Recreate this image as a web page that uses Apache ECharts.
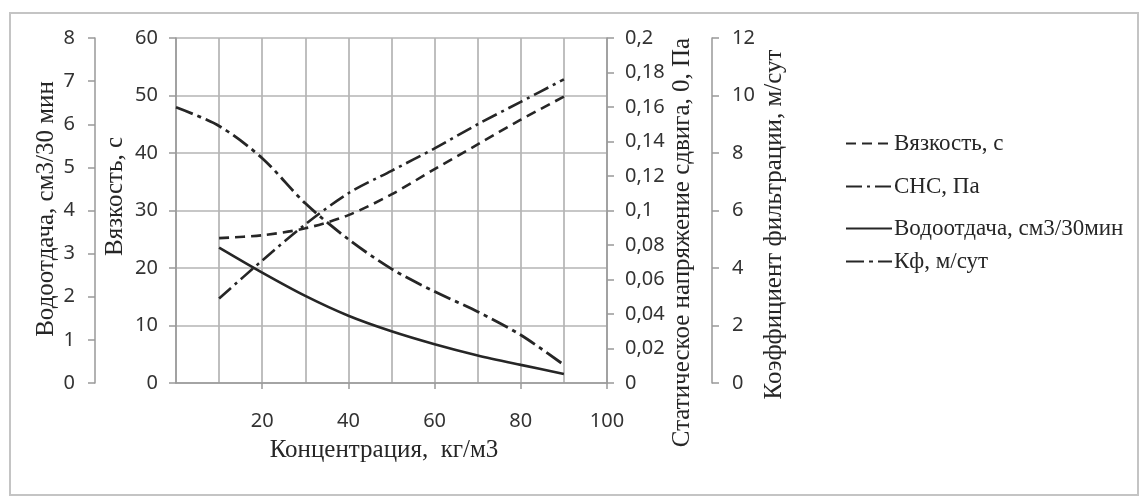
<!DOCTYPE html>
<html>
<head>
<meta charset="utf-8">
<script src="https://cdn.jsdelivr.net/npm/echarts@6/dist/echarts.min.js"></script>
<style>
  html, body { margin: 0; padding: 0; background: #fff; }
  #chart { width: 1141px; height: 497px; }
</style>
</head>
<body>
<div id="chart"></div>
<script>
// Concentration, kg/m3
const concentration = [10, 20, 30, 40, 50, 60, 70, 80, 90];
const kfConcentration = [0, 10, 20, 30, 40, 50, 60, 70, 80, 90];

// Measured properties
const viscosity = [25.2, 25.7, 26.9, 29.2, 32.8, 37.2, 41.5, 45.8, 49.8];
const sns = [0.049, 0.071, 0.092, 0.110, 0.123, 0.136, 0.150, 0.163, 0.176];
const waterLoss = [3.14, 2.56, 2.02, 1.56, 1.2, 0.9, 0.64, 0.42, 0.21];
const kf = [9.59, 8.94, 7.82, 6.25, 5.0, 3.97, 3.18, 2.48, 1.67, 0.63];

const seriesNames = ['Вязкость, с', 'СНС, Па', 'Водоотдача, см3/30мин', 'Кф, м/сут'];
const waterLossTitle = 'Водоотдача, см3/30 мин';

const pairs = (xs, ys) => xs.map((x, i) => [x, ys[i]]);

const SERIF = '"Liberation Serif", "DejaVu Serif", serif';
const SANS = '"Noto Sans", "Open Sans", sans-serif';
const GRID = '#b4b4b4';
const AXIS = '#999';
const INK = '#262626';
const LABEL = '#333';

const tickLabel = { fontFamily: SANS, fontSize: 20, color: LABEL };

function titleStyle(padding, size) {
  return { fontFamily: SERIF, fontSize: size || 25, color: INK, padding: padding };
}

function yAxisBase(extra) {
  return Object.assign({
    type: 'value',
    nameLocation: 'middle',
    nameRotate: 90,
    axisLine: { show: true, lineStyle: { color: AXIS, width: 1.5 } },
    axisTick: { show: true, inside: false, length: 7, lineStyle: { color: AXIS, width: 1.5 } },
    splitLine: { show: false }
  }, extra);
}

const chart = echarts.init(document.getElementById('chart'), null, { renderer: 'canvas' });

const lineStyles = [
  { color: INK, width: 2.6, type: [10, 6] },
  { color: INK, width: 2.6, type: [16, 5, 3, 5] },
  { color: INK, width: 2.6, type: 'solid' },
  { color: INK, width: 2.8, type: [18, 5, 4, 5] }
];

const legendTops = [127, 170, 212, 245];

chart.setOption({
  backgroundColor: '#fff',
  animation: false,
  graphic: [
    {
      type: 'rect',
      shape: { x: 10, y: 13, width: 1128, height: 482 },
      style: { fill: 'none', stroke: '#c4c4c4', lineWidth: 2 },
      silent: true,
      z: -1
    },
    {
      // title of the outer left (water loss) axis
      type: 'text',
      x: 46,
      y: 209,
      rotation: Math.PI / 2,
      silent: true,
      style: {
        text: waterLossTitle,
        font: '25px ' + SERIF,
        fill: INK,
        align: 'center',
        verticalAlign: 'middle'
      }
    }
  ],
  grid: { left: 176, right: 534, top: 38, bottom: 114, containLabel: false },
  legend: seriesNames.map((name, i) => ({
    data: [name],
    left: 840,
    top: legendTops[i],
    itemWidth: 46,
    itemHeight: 14,
    itemGap: 0,
    itemStyle: { opacity: 0 },
    textStyle: { fontFamily: SERIF, fontSize: 23, color: INK, padding: [0, 0, 0, -3] },
    selectedMode: false
  })),
  xAxis: {
    type: 'value',
    min: 0,
    max: 100,
    interval: 20,
    name: 'Концентрация,  кг/м3',
    nameLocation: 'middle',
    nameGap: 55,
    nameTextStyle: titleStyle([0, 15, 0, 0]),
    axisLine: { show: true, onZero: false, lineStyle: { color: AXIS, width: 1.5 } },
    axisTick: { show: true, length: 6, lineStyle: { color: AXIS, width: 1.5 } },
    minorTick: { show: false, splitNumber: 2 },
    axisLabel: Object.assign({ margin: 28, showMinLabel: false }, tickLabel),
    splitLine: { show: true, lineStyle: { color: GRID, width: 1.7 } },
    minorSplitLine: { show: true, lineStyle: { color: GRID, width: 1.7 } }
  },
  yAxis: [
    yAxisBase({
      name: 'Вязкость, с',
      position: 'left',
      offset: 0,
      min: 0, max: 60, interval: 10,
      nameGap: 48,
      nameTextStyle: titleStyle([0, 0, 0, 28]),
      axisLabel: Object.assign({ margin: 18 }, tickLabel),
      splitLine: { show: true, lineStyle: { color: GRID, width: 1.7 } }
    }),
    yAxisBase({
      position: 'left',
      offset: 81,
      min: 0, max: 8, interval: 1,
      axisLabel: Object.assign({ margin: 20 }, tickLabel)
    }),
    yAxisBase({
      name: 'Статическое напряжение сдвига, 0, Па',
      position: 'right',
      offset: 0,
      min: 0, max: 0.2, interval: 0.02,
      nameGap: 63,
      nameTextStyle: titleStyle([0, 64, 0, 0]),
      axisLabel: Object.assign({
        margin: 18,
        formatter: v => String(+v.toFixed(2)).replace('.', ',')
      }, tickLabel)
    }),
    yAxisBase({
      name: 'Коэффициент фильтрации, м/сут',
      position: 'right',
      offset: 105,
      min: 0, max: 12, interval: 2,
      nameGap: 50,
      nameTextStyle: titleStyle([0, 28, 0, 0]),
      axisLabel: Object.assign({ margin: 20 }, tickLabel)
    })
  ],
  series: [
    {
      name: seriesNames[0], type: 'line', yAxisIndex: 0,
      data: pairs(concentration, viscosity),
      smooth: 0.3, showSymbol: false, symbol: 'none',
      lineStyle: lineStyles[0], itemStyle: { color: INK }
    },
    {
      name: seriesNames[1], type: 'line', yAxisIndex: 2,
      data: pairs(concentration, sns),
      smooth: 0.3, showSymbol: false, symbol: 'none',
      lineStyle: lineStyles[1], itemStyle: { color: INK }
    },
    {
      name: seriesNames[2], type: 'line', yAxisIndex: 1,
      data: pairs(concentration, waterLoss),
      smooth: 0.3, showSymbol: false, symbol: 'none',
      lineStyle: lineStyles[2], itemStyle: { color: INK }
    },
    {
      name: seriesNames[3], type: 'line', yAxisIndex: 3,
      data: pairs(kfConcentration, kf),
      smooth: 0.3, showSymbol: false, symbol: 'none',
      lineStyle: lineStyles[3], itemStyle: { color: INK }
    }
  ]
});
</script>
</body>
</html>
